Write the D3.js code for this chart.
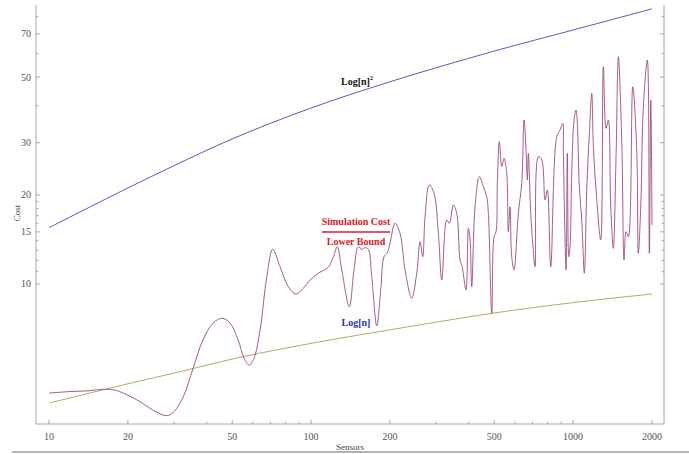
<!DOCTYPE html>
<html>
<head>
<meta charset="utf-8">
<script src="https://cdn.jsdelivr.net/npm/d3@7"></script>
<style>
  body { margin: 0; background: #fff; }
  svg { display: block; }
  .tick-label { font-family: "Liberation Serif", "DejaVu Serif", serif; font-size: 10px; fill: #555; }
  .axis-title { font-family: "Liberation Serif", "DejaVu Serif", serif; font-size: 9px; fill: #444; }
  .note { font-family: "Liberation Serif", "DejaVu Serif", serif; font-size: 10px; font-weight: bold; }
</style>
</head>
<body>
<div id="target"></div>
<script>
// tick values
const xMajor = [10, 20, 50, 100, 200, 500, 1000, 2000];
const xMinor = [30, 40, 60, 70, 80, 90, 300, 400, 600, 700, 800, 900];
const yMajor = [10, 15, 20, 30, 50, 70];
const yMinor = [11, 12, 13, 14, 16, 17, 18, 19, 40, 60, 80];

// Log[n]^2 curve
const sqN = [10, 20, 30, 50, 100, 200, 500, 1000, 2000];
const sqCost = [15.5, 21.1, 25.1, 30.9, 39.3, 48.2, 61.2, 72.1, 85.0];

// Log[n] curve
const lnN = [10, 20, 30, 54, 100, 200, 500, 1000, 2000];
const lnCost = [3.96, 4.60, 5.00, 5.66, 6.30, 7.00, 7.98, 8.65, 9.25];

// simulation cost
const simN = [10, 12.0, 14.3, 16.1, 17.9, 19.2, 22.3, 24.9, 28.1, 29.7, 32.5, 35.5, 38.7, 42.3, 45.7,
  49.1, 52.7, 55.5, 58.0, 60.6, 63.9, 67.8, 71.4, 76.2, 81.9, 87.6, 93.4, 99.1, 106.6, 116.4,
  121.7, 126.0, 131.0, 140.0, 145.9, 151.5, 156.6, 160.7, 165.4, 170.5, 178.2, 184.5, 189.9, 195.5, 200.2,
  209.2, 218.6, 228.5, 242.3, 253.2, 260.6, 266.9, 272.4, 282.8, 294.8, 306.2, 315.5, 329.6, 337.3, 349.3,
  359.9, 370.5, 377.0, 390.5, 398.5, 404.5, 410.6, 422.7, 439.0, 454.7, 468.5, 475.1, 489.5, 499.5, 508.3,
  514.2, 523.3, 534.5, 545.4, 558.4, 566.3, 574.8, 583.4, 595.4, 618.3, 637.1, 650.2, 661.6, 669.3, 675.2,
  689.5, 701.8, 716.1, 737.2, 759.5, 781.8, 797.9, 822.1, 866.7, 892.2, 913.6, 918.5, 932.3, 940.5, 951.2,
  963.0, 974.0, 988.6, 1008.8, 1026.8, 1038.5, 1056.9, 1079.5, 1104.4, 1128.1, 1154.1, 1178.8, 1195.5, 1224.2, 1275.7,
  1305.1, 1336.6, 1363.7, 1392.9, 1425.0, 1459.2, 1489.1, 1534.3, 1565.7, 1593.4, 1625.9, 1690.1, 1750.3, 1775.1, 1813.1,
  1854.9, 1921.4, 1955.3, 1979.8, 2002];
const simCost = [4.28, 4.33, 4.36, 4.41, 4.38, 4.28, 4.00, 3.75, 3.59, 3.67, 4.15, 5.20, 6.47, 7.38, 7.66,
  7.38, 6.47, 5.62, 5.32, 5.62, 6.99, 10.59, 13.10, 11.44, 9.79, 9.25, 9.67, 10.31, 10.87, 11.39,
  12.36, 13.37, 11.15, 8.38, 11.15, 13.37, 13.08, 13.26, 13.10, 10.59, 7.21, 9.54, 12.36, 12.76, 13.73,
  16.04, 14.84, 11.15, 8.95, 10.87, 13.90, 12.36, 16.88, 21.6, 20.25, 14.84, 10.31, 16.45, 16.04, 18.49,
  17.33, 12.05, 11.50, 9.54, 15.42, 14.08, 9.79, 18.24, 23.04, 21.32, 19.72, 17.33, 7.96, 14.45, 15.02,
  21.89, 30.25, 24.9, 26.6, 23.66, 15.02, 18.24, 12.36, 11.15, 17.33, 21.89, 35.81, 28.37, 22.46, 27.65,
  17.33, 13.73, 11.44, 26.92, 26.24, 19.22, 20.78, 11.44, 31.45, 33.13, 34.9, 27.65, 14.08, 11.15, 27.65,
  12.36, 13.37, 23.66, 35.81, 38.71, 34.9, 21.32, 16.45, 10.87, 20.78, 32.29, 44.1, 29.1, 20.78, 14.08,
  54.2, 33.57, 35.81, 18.24, 13.2, 26.92, 58.6, 30.65, 12.05, 15.02, 14.45, 46.4, 28.37, 12.70, 18.24,
  39.7, 57.1, 12.70, 41.84, 15.82];

const width = 689, height = 454;
const plotLeft = 36, plotRight = 664, plotTop = 5, plotBottom = 424;

const x = d3.scaleLog().domain([8.92, 2224]).range([plotLeft, plotRight]);
const y = d3.scaleLog().domain([3.365, 87.6]).range([plotBottom, plotTop]);

const svg = d3.select("#target")
  .append("svg")
  .attr("width", width)
  .attr("height", height);

// frame
const frame = svg.append("g").attr("stroke", "#a8a8a8").attr("stroke-width", 1).attr("fill", "none");
frame.append("line").attr("x1", plotLeft).attr("x2", plotLeft).attr("y1", plotTop).attr("y2", plotBottom);
frame.append("line").attr("x1", plotRight).attr("x2", plotRight).attr("y1", plotTop).attr("y2", plotBottom);
frame.append("line").attr("x1", plotLeft).attr("x2", plotRight).attr("y1", plotBottom).attr("y2", plotBottom);

// x ticks (pointing inward)
frame.selectAll(".xmaj").data(xMajor).enter().append("line")
  .attr("x1", (d) => x(d)).attr("x2", (d) => x(d))
  .attr("y1", plotBottom).attr("y2", plotBottom - 4);
frame.selectAll(".xmin").data(xMinor).enter().append("line")
  .attr("x1", (d) => x(d)).attr("x2", (d) => x(d))
  .attr("y1", plotBottom).attr("y2", plotBottom - 2.5);

// y ticks on both sides
[[plotLeft, 1], [plotRight, -1]].forEach(([x0, dir]) => {
  frame.selectAll(null).data(yMajor).enter().append("line")
    .attr("x1", x0).attr("x2", x0 + dir * 4)
    .attr("y1", (d) => y(d)).attr("y2", (d) => y(d));
  frame.selectAll(null).data(yMinor).enter().append("line")
    .attr("x1", x0).attr("x2", x0 + dir * 2.5)
    .attr("y1", (d) => y(d)).attr("y2", (d) => y(d));
});

svg.selectAll(".xl").data(xMajor).enter().append("text")
  .attr("class", "tick-label")
  .attr("x", (d) => x(d)).attr("y", plotBottom + 16)
  .attr("text-anchor", "middle")
  .text((d) => d);

svg.selectAll(".yl").data(yMajor).enter().append("text")
  .attr("class", "tick-label")
  .attr("x", plotLeft - 5).attr("y", (d) => y(d)).attr("dy", "0.35em")
  .attr("text-anchor", "end")
  .text((d) => d);

svg.append("text").attr("class", "axis-title")
  .attr("x", 350).attr("y", 450).attr("text-anchor", "middle").text("Sensors");
svg.append("text").attr("class", "axis-title")
  .attr("transform", "translate(20,213) rotate(-90)")
  .attr("text-anchor", "middle").text("Cost");

// bottom separator
svg.append("line").attr("x1", 12).attr("x2", 689).attr("y1", 452).attr("y2", 452)
  .attr("stroke", "#9a9a9a").attr("stroke-width", 1.5);

const line = d3.line()
  .x((d) => x(d[0]))
  .y((d) => y(d[1]))
  .curve(d3.curveCatmullRom.alpha(0.5));

svg.append("path")
  .datum(d3.zip(sqN, sqCost))
  .attr("d", line)
  .attr("fill", "none").attr("stroke", "#5a5ac0").attr("stroke-width", 1);

svg.append("path")
  .datum(d3.zip(lnN, lnCost))
  .attr("d", line)
  .attr("fill", "none").attr("stroke", "#b0aa68").attr("stroke-width", 1);

svg.append("path")
  .datum(d3.zip(simN, simCost))
  .attr("d", line)
  .attr("fill", "none").attr("stroke", "#9c4a7c").attr("stroke-width", 0.9);

// labels
const sq = svg.append("text").attr("class", "note")
  .attr("x", 341).attr("y", 85).attr("fill", "#111");
sq.append("tspan").text("Log[n]");
sq.append("tspan").attr("font-size", "6px").attr("dy", -5).text("2");

svg.append("text").attr("class", "note")
  .attr("x", 356).attr("y", 225).attr("text-anchor", "middle")
  .attr("fill", "#d8202a").text("Simulation Cost");
svg.append("line").attr("x1", 322).attr("x2", 390).attr("y1", 232).attr("y2", 232)
  .attr("stroke", "#d8202a").attr("stroke-width", 1.4);
svg.append("text").attr("class", "note")
  .attr("x", 356).attr("y", 245).attr("text-anchor", "middle")
  .attr("fill", "#d8202a").text("Lower Bound");

svg.append("text").attr("class", "note")
  .attr("x", 356).attr("y", 326).attr("text-anchor", "middle")
  .attr("fill", "#2a34b8").text("Log[n]");
</script>
</body>
</html>
